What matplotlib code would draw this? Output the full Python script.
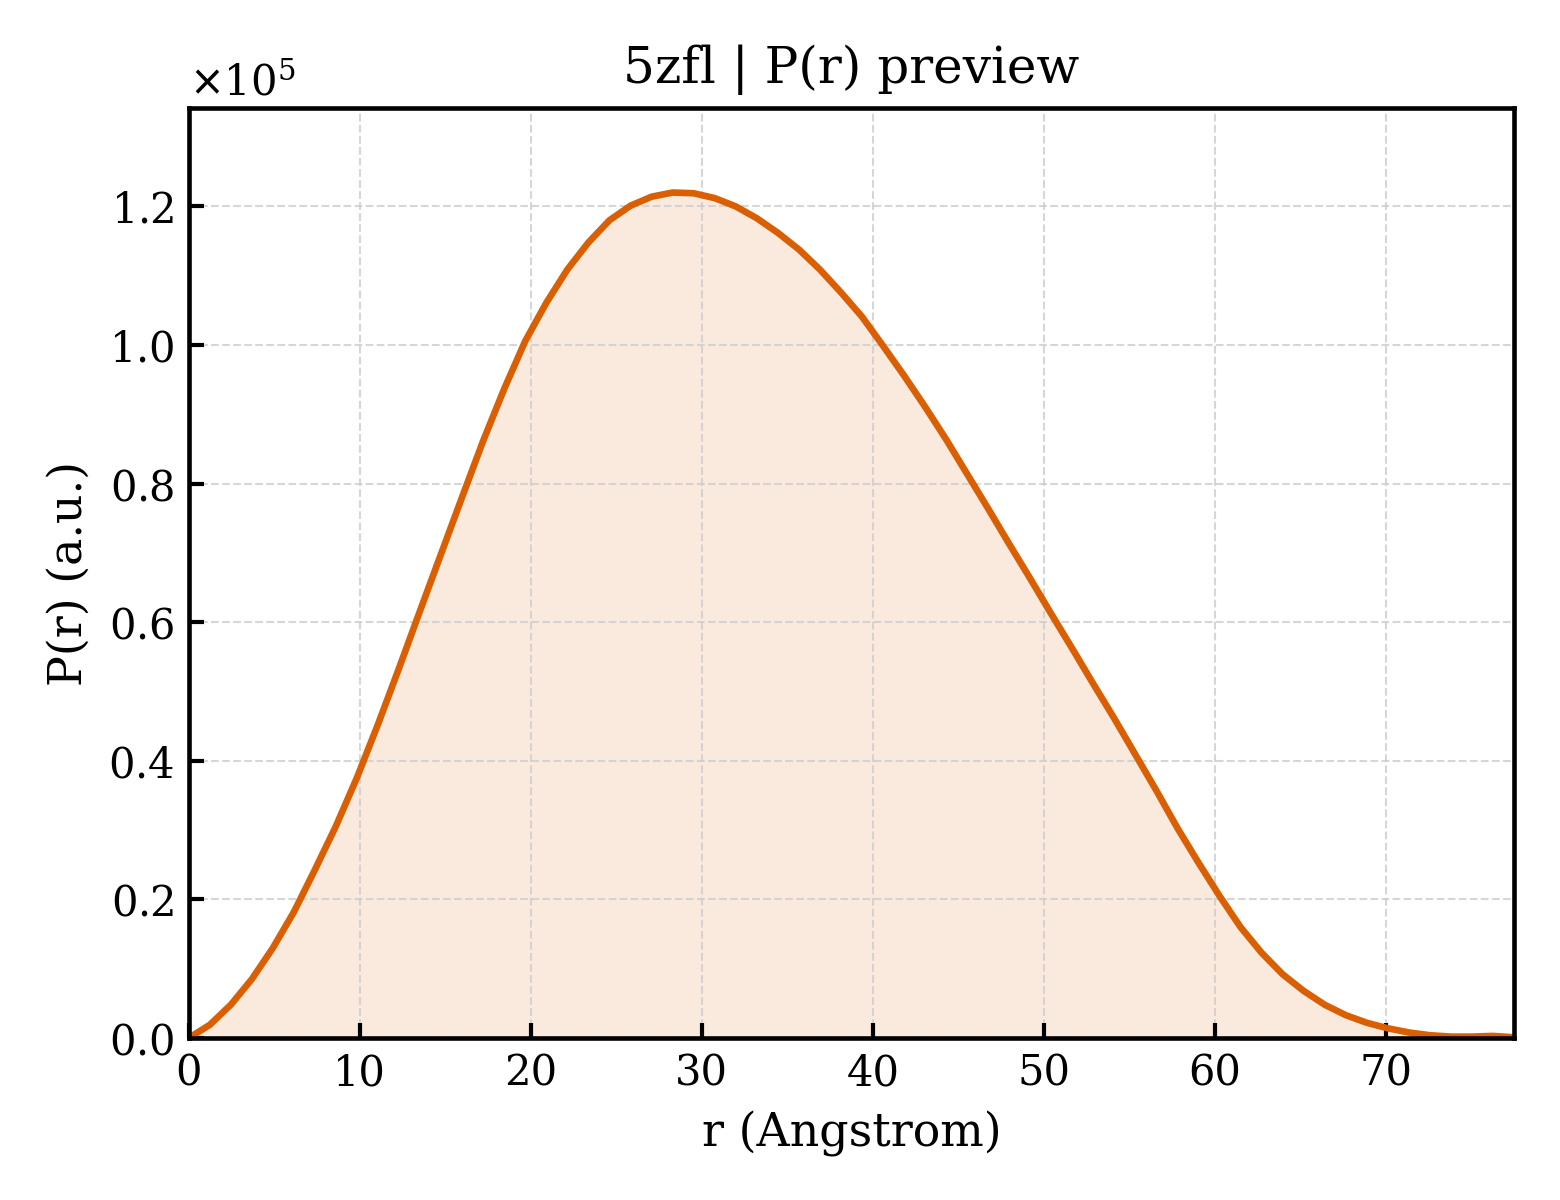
import matplotlib
matplotlib.use('Agg')
import matplotlib.pyplot as plt
from matplotlib.ticker import ScalarFormatter

# distance grid (Angstrom) and P(r) values (x 1e5), read from the preview
r = [0.00, 1.23, 2.46, 3.69, 4.92, 6.15, 7.38, 8.61, 9.84, 11.07,
     12.30, 13.53, 14.76, 15.99, 17.22, 18.45, 19.68, 20.91, 22.14, 23.37,
     24.60, 25.83, 27.06, 28.29, 29.52, 30.75, 31.98, 33.21, 34.44, 35.67,
     36.90, 38.13, 39.36, 40.59, 41.82, 43.05, 44.28, 45.51, 46.74, 47.97,
     49.20, 50.43, 51.66, 52.89, 54.12, 55.35, 56.58, 57.81, 59.04, 60.27,
     61.50, 62.73, 63.96, 65.19, 66.42, 67.65, 68.88, 70.11, 71.34, 72.57,
     73.80, 75.03, 76.26, 77.49]
pr = [0.000, 0.019, 0.048, 0.085, 0.130, 0.182, 0.243, 0.306, 0.376, 0.453,
      0.534, 0.617, 0.699, 0.781, 0.862, 0.937, 1.006, 1.061, 1.109, 1.148,
      1.180, 1.201, 1.214, 1.220, 1.219, 1.212, 1.200, 1.183, 1.162, 1.138,
      1.109, 1.076, 1.041, 0.999, 0.956, 0.911, 0.864, 0.814, 0.764, 0.713,
      0.663, 0.612, 0.562, 0.511, 0.461, 0.409, 0.357, 0.303, 0.253, 0.205,
      0.160, 0.123, 0.092, 0.068, 0.048, 0.033, 0.022, 0.014, 0.008, 0.004,
      0.002, 0.002, 0.003, 0.001]
pr = [v * 1e5 for v in pr]

line_color = '#d95f02'

plt.rcParams['font.family'] = 'DejaVu Serif'
plt.rcParams['mathtext.fontset'] = 'dejavusans'

fig = plt.figure(figsize=(5.2, 4.0), dpi=300)
ax = fig.add_axes([0.121, 0.135, 0.8495, 0.775])

ax.fill_between(r, pr, 0, color=line_color, alpha=0.13, linewidth=0)
ax.plot(r, pr, color=line_color, lw=1.6)

ax.set_xlim(0, r[-1])
ax.set_ylim(0, max(pr) * 1.1)

fmt = ScalarFormatter(useMathText=True)
fmt.set_powerlimits((0, 0))
ax.yaxis.set_major_formatter(fmt)
ax.yaxis.get_offset_text().set_fontsize(10)

ax.grid(True, color='#cccccc', linestyle='--', linewidth=0.5, alpha=0.8)
ax.tick_params(direction='in', length=3.5, width=1.0, labelsize=10)
for s in ax.spines.values():
    s.set_linewidth(1.1)

ax.set_xlabel('r (Angstrom)', fontsize=11)
ax.set_ylabel('P(r) (a.u.)', fontsize=11)
ax.set_title('5zfl | P(r) preview', fontsize=12)

fig.savefig('out.png', dpi=300)
